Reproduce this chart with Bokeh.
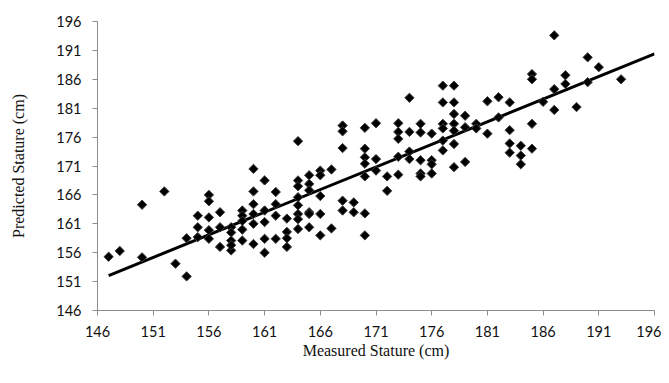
import math
from bokeh.plotting import figure
from bokeh.models import FixedTicker, Range1d
from bokeh.embed import file_html
from bokeh.resources import INLINE

# Measured stature (cm) and predicted stature (cm)
measured = [
    147, 148, 150, 150, 152, 153, 154, 154,
    155, 155, 155,
    156, 156, 156, 156, 156,
    157, 157, 157,
    158, 158, 158, 158, 158,
    159, 159, 159, 159, 159,
    160, 160, 160, 160, 160, 160,
    161, 161, 161, 161, 161,
    162, 162, 162, 162,
    163, 163, 163, 163,
    164, 164, 164, 164, 164, 164, 164, 164,
    165, 165, 165, 165, 165, 165,
    166, 166, 166, 166, 166,
    167, 167,
    168, 168, 168, 168, 168,
    169, 169,
    170, 170, 170, 170, 170, 170, 170,
    171, 171, 171,
    172, 172,
    173, 173, 173, 173, 173,
    174, 174, 174, 174,
    175, 175, 175, 175, 175,
    176, 176, 176, 176,
    177, 177, 177, 177, 177, 177,
    178, 178, 178, 178, 178, 178, 178,
    179, 179, 179,
    180, 180,
    181, 181,
    182, 182,
    183, 183, 183, 183,
    184, 184, 184,
    185, 185, 185, 185,
    186,
    187, 187, 187,
    188, 188,
    189,
    190, 190,
    191,
    193,
]
predicted = [
    155.3, 156.3, 164.3, 155.2, 166.6, 154.1, 151.9, 158.5,
    162.4, 160.4, 158.7,
    166.0, 164.9, 162.1, 159.9, 158.4,
    163.0, 160.4, 157.0,
    160.4, 159.5, 158.1, 156.4, 157.3,
    163.3, 162.4, 161.5, 158.1, 160.0,
    170.5, 166.6, 164.4, 162.7, 161.0, 157.5,
    168.5, 163.3, 161.3, 158.4, 156.0,
    166.5, 164.4, 162.4, 158.4,
    161.9, 159.6, 157.0, 158.5,
    175.3, 168.5, 167.5, 165.6, 164.2, 162.7, 161.8, 160.1,
    169.4, 167.9, 163.0, 162.7, 160.4, 166.8,
    170.2, 169.4, 165.8, 162.7, 159.0,
    170.4, 160.2,
    178.0, 177.0, 174.1, 165.0, 163.3,
    164.7, 163.0,
    177.6, 174.0, 172.5, 171.4, 169.2, 162.8, 159.0,
    178.4, 172.2, 170.2,
    169.2, 166.7,
    178.4, 176.9, 175.7, 172.6, 169.5,
    182.8, 176.9, 173.5, 172.2,
    178.3, 176.8, 172.0, 169.7, 169.2,
    176.6, 172.0, 171.3, 169.7,
    184.9, 182.0, 178.3, 177.5, 175.4, 173.7,
    184.9, 182.0, 180.0, 178.3, 177.1, 174.8, 170.8,
    179.7, 177.7, 171.7,
    178.3, 177.5,
    182.2, 176.6,
    182.9, 179.4,
    182.0, 177.2, 174.9, 173.3,
    174.5, 172.8, 171.3,
    186.9, 186.0, 178.3, 174.0,
    182.1,
    193.6, 184.3, 180.7,
    186.7, 185.2,
    181.2,
    189.8, 185.5,
    188.1,
    186.0,
]

# Trend line end points
trend_x = [147, 196]
trend_y = [152.05, 190.4]

tick_values = [146, 151, 156, 161, 166, 171, 176, 181, 186, 191, 196]

p = figure(
    width=661, height=375,
    output_backend="svg", toolbar_location=None,
    x_range=Range1d(146, 196), y_range=Range1d(146, 196),
    min_border_left=97, min_border_right=7, min_border_top=21, min_border_bottom=65,
)
p.outline_line_color = None
p.xgrid.visible = False
p.ygrid.visible = False
p.background_fill_color = "white"
p.border_fill_color = "white"

p.line(trend_x, trend_y, line_color="black", line_width=3)
p.scatter(measured, predicted, marker="square", angle=math.pi / 4, size=6.6,
          fill_color="black", line_color="#3c3c3c", line_width=1)

for ax in (p.xaxis[0], p.yaxis[0]):
    ax.ticker = FixedTicker(ticks=tick_values)
    ax.minor_tick_line_color = None
    ax.major_tick_in = 0
    ax.major_tick_out = 5
    ax.axis_line_color = "#8c8c8c"
    ax.major_tick_line_color = "#8c8c8c"
    ax.major_label_text_font = "Lato"
    ax.major_label_text_font_size = "14.5px"
    ax.major_label_text_color = "#111111"
    ax.axis_label_text_font = "Liberation Serif"
    ax.axis_label_text_font_size = "16px"
    ax.axis_label_text_font_style = "normal"
    ax.axis_label_text_color = "#111111"

p.xaxis.axis_label = "Measured Stature (cm)"
p.yaxis.axis_label = "Predicted Stature (cm)"
p.xaxis.major_label_standoff = 10
p.yaxis.major_label_standoff = 11
p.xaxis.axis_label_standoff = 2
p.yaxis.axis_label_standoff = 26

open("out.html", "w").write(file_html(p, INLINE))
